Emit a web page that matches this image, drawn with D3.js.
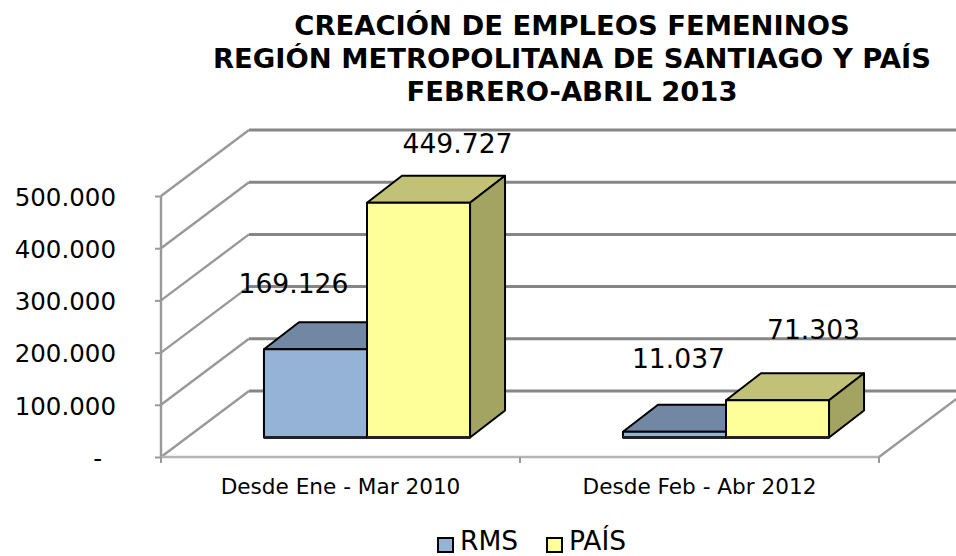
<!DOCTYPE html>
<meta charset="utf-8">
<style>
  html, body { margin: 0; background: #fff; }
  svg { display: block; }
  text { font-family: "DejaVu Sans", sans-serif; fill: #000; }
  .title { font-weight: bold; font-size: 27.4px; text-anchor: middle; }
  .value { font-size: 26.6px; text-anchor: middle; }
  .ytick { font-size: 24.5px; }
  .xtick { font-size: 21.6px; }
  .legend { font-size: 26.5px; }
</style>

<svg width="956" height="556"></svg>
<script src="https://d3js.org/d3.v7.min.js"></script>
<script>
// data
var titleLines = ["CREACIÓN DE EMPLEOS FEMENINOS", "REGIÓN METROPOLITANA DE SANTIAGO Y PAÍS", "FEBRERO-ABRIL 2013"];
var categories = ["Desde Ene - Mar 2010", "Desde Feb - Abr 2012"];
var seriesNames = ["RMS", "PAÍS"];
var rmsValues = [169126, 11037];
var paisValues = [449727, 71303];
var yTicks = [0, 100000, 200000, 300000, 400000, 500000];

// colours per series: front, top, side
var fills = [
  { front: "#95b3d7", top: "#7187a3", side: "#64788f" },
  { front: "#ffff99", top: "#c1c177", side: "#a4a462" }
];

var svg = d3.select("svg"),
    width = +svg.attr("width"),
    height = +svg.attr("height");

// front plane of the 3d box, plus depth offset of the back wall
var left = 161, right = 879, bottom = 457, top_ = 196;
var depthX = 88, depthY = -66;
var barDepthX = 35, barDepthY = -27;

var x0 = d3.scaleBand().domain(categories).range([left, right]);
var x1 = d3.scaleBand().domain(seriesNames)
    .range([x0.bandwidth() * 0.213, x0.bandwidth() * 0.787]);
var y = d3.scaleLinear().domain([0, 500000]).range([bottom, top_]);

// bars sit halfway into the depth of the floor
var barShiftX = (depthX - barDepthX) / 2,
    barShiftY = (depthY - barDepthY) / 2;

var num = d3.format(",d");
function fmt(v) { return num(v).replace(/,/g, "."); }

// walls
var wall = svg.append("g");
yTicks.forEach(function(t) {
  wall.append("line")
      .attr("x1", left + depthX).attr("x2", width + 20)
      .attr("y1", y(t) + depthY).attr("y2", y(t) + depthY)
      .attr("stroke", "#868686").attr("stroke-width", 3);
  wall.append("line")
      .attr("x1", left).attr("y1", y(t))
      .attr("x2", left + depthX).attr("y2", y(t) + depthY)
      .attr("stroke", "#999").attr("stroke-width", 2.4);
});
// left upright and floor edges
wall.append("line").attr("x1", left).attr("x2", left)
    .attr("y1", y(500000)).attr("y2", bottom)
    .attr("stroke", "#999").attr("stroke-width", 2.4);
wall.append("line").attr("x1", right).attr("y1", bottom)
    .attr("x2", right + depthX).attr("y2", bottom + depthY)
    .attr("stroke", "#999").attr("stroke-width", 2.4);
wall.append("line").attr("x1", left).attr("x2", right)
    .attr("y1", bottom).attr("y2", bottom)
    .attr("stroke", "#b4b4b4").attr("stroke-width", 2.4);

// y axis
var yAxis = svg.append("g")
    .attr("transform", "translate(" + left + ",0)")
    .call(d3.axisLeft(y).tickValues(yTicks).tickSize(6).tickPadding(39)
      .tickFormat(function(d) { return d === 0 ? "-" : fmt(d); }));
yAxis.select(".domain").remove();
yAxis.selectAll("line").attr("stroke", "#999").attr("stroke-width", 2);
yAxis.selectAll("text").attr("class", "ytick")
    .attr("dx", function(d) { return d === 0 ? -14 : 0; })
    .attr("dy", "0.38em");

// x axis, labels centred on bands, ticks on band edges
var xAxis = svg.append("g")
    .attr("transform", "translate(0," + bottom + ")")
    .call(d3.axisBottom(x0).tickSize(0).tickPadding(22));
xAxis.select(".domain").remove();
xAxis.selectAll("text").attr("class", "xtick");
xAxis.selectAll(".edge")
    .data([left, left + x0.step(), left + 2 * x0.step()])
    .enter().append("line").attr("class", "edge")
    .attr("x1", function(d) { return d; }).attr("x2", function(d) { return d; })
    .attr("y1", 0).attr("y2", 6)
    .attr("stroke", "#999").attr("stroke-width", 2);

// bars
var rows = [rmsValues, paisValues];
seriesNames.forEach(function(name, s) {
  var g = svg.append("g").attr("stroke", "#000").attr("stroke-width", 2).attr("stroke-linejoin", "round");
  categories.forEach(function(cat, c) {
    var v = rows[s][c],
        xa = x0(cat) + x1(name) + barShiftX,
        xb = xa + x1.bandwidth(),
        yb = y(0) + barShiftY,
        yt = y(v) + barShiftY;
    g.append("polygon")
        .attr("points", [[xa, yt], [xb, yt], [xb + barDepthX, yt + barDepthY], [xa + barDepthX, yt + barDepthY]].join(" "))
        .attr("fill", fills[s].top);
    g.append("polygon")
        .attr("points", [[xb, yt], [xb + barDepthX, yt + barDepthY], [xb + barDepthX, yb + barDepthY], [xb, yb]].join(" "))
        .attr("fill", fills[s].side);
    g.append("rect")
        .attr("x", xa).attr("y", yt)
        .attr("width", xb - xa).attr("height", yb - yt)
        .attr("fill", fills[s].front);
    g.append("line").attr("x1", xa).attr("x2", xb).attr("y1", yb).attr("y2", yb)
        .attr("stroke-width", 3).attr("stroke", "#222");
  });
});

// value labels, hand placed in the original so offset from the bar's top centre
var labelNudge = [[[-22, -56], [4, -64]], [[39, -50], [36, -61]]];
rows.forEach(function(vals, s) {
  vals.forEach(function(v, c) {
    var cat = categories[c], name = seriesNames[s];
    svg.append("text").attr("class", "value")
        .attr("x", x0(cat) + x1(name) + barShiftX + x1.bandwidth() / 2 + labelNudge[s][c][0])
        .attr("y", y(v) + barShiftY + labelNudge[s][c][1])
        .text(fmt(v));
  });
});

// title
svg.selectAll(".title").data(titleLines).enter().append("text")
    .attr("class", "title")
    .attr("x", 572)
    .attr("y", function(d, i) { return 35 + i * 33; })
    .text(function(d) { return d; });

// legend
var legendX = [438, 547];
seriesNames.forEach(function(name, s) {
  svg.append("rect")
      .attr("x", legendX[s]).attr("y", 538).attr("width", 15).attr("height", 14)
      .attr("fill", fills[s].front).attr("stroke", "#000").attr("stroke-width", 2);
  svg.append("text").attr("class", "legend")
      .attr("x", legendX[s] + 22).attr("y", 549.5).text(name);
});
</script>
